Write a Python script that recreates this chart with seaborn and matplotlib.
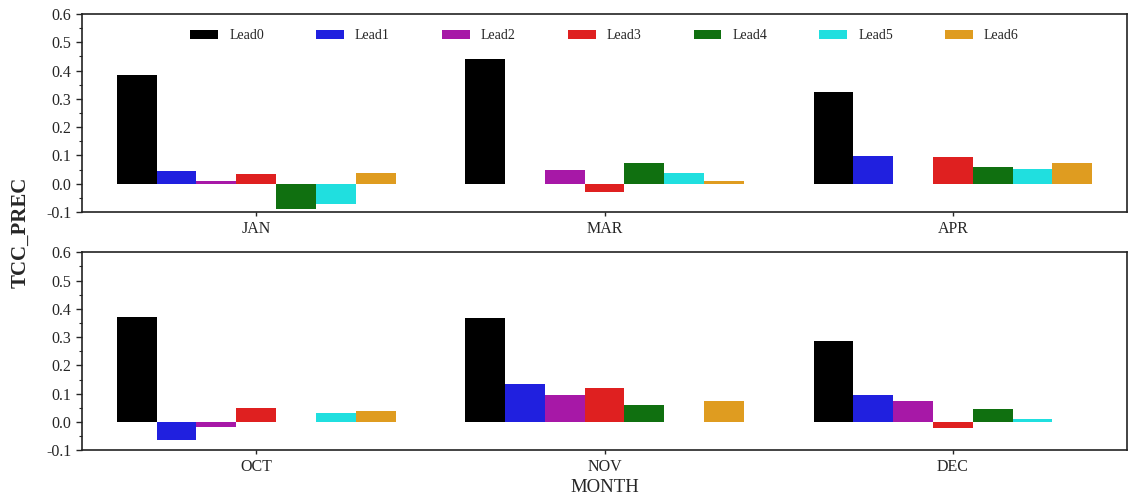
import numpy as np
import pandas as pd
import matplotlib
matplotlib.use('Agg')
import matplotlib.pyplot as plt
from matplotlib.ticker import MultipleLocator, FormatStrFormatter
import seaborn as sns

# data (nan = no bar drawn)
leads = ['Lead0', 'Lead1', 'Lead2', 'Lead3', 'Lead4', 'Lead5', 'Lead6']
months_top = ['JAN', 'MAR', 'APR']
months_bot = ['OCT', 'NOV', 'DEC']

jan = [0.383, 0.044, 0.011, 0.036, -0.088, -0.070, 0.038]
mar = [0.441, np.nan, 0.048, -0.028, 0.073, 0.038, 0.011]
apr = [0.325, 0.099, np.nan, 0.093, 0.060, 0.052, 0.075]
octo = [0.371, -0.064, -0.017, 0.049, np.nan, 0.033, 0.038]
nov = [0.367, 0.135, 0.097, 0.119, 0.060, np.nan, 0.073]
dec = [0.285, 0.095, 0.074, -0.020, 0.046, 0.012, np.nan]

colors = ['black', 'blue', 'm', 'red', 'green', 'cyan', 'orange']


def make_df(months, vals):
    rows = []
    for m, v in zip(months, vals):
        for l, x in zip(leads, v):
            rows.append({'MONTH': m, 'Lead': l, 'TCC': x})
    return pd.DataFrame(rows)


top = make_df(months_top, [jan, mar, apr])
bot = make_df(months_bot, [octo, nov, dec])

sns.set_style('ticks')
plt.rcParams['font.family'] = ['Liberation Serif', 'DejaVu Serif']

fig = plt.figure(figsize=(11.28, 4.97), dpi=100)
ax1 = fig.add_axes([0.0727, 0.5734, 0.9265, 0.3984])
ax2 = fig.add_axes([0.0727, 0.094, 0.9265, 0.3984])

for ax, df, mo in [(ax1, top, months_top), (ax2, bot, months_bot)]:
    sns.barplot(data=df, x='MONTH', y='TCC', hue='Lead', hue_order=leads,
                order=mo, palette=colors, errorbar=None, ax=ax,
                legend=(ax is ax1), linewidth=0)
    ax.set_ylim(-0.1, 0.6)
    ax.set_xlim(-0.5, 2.5)
    ax.yaxis.set_major_locator(MultipleLocator(0.1))
    ax.yaxis.set_minor_locator(MultipleLocator(0.05))
    ax.yaxis.set_major_formatter(FormatStrFormatter('%.1f'))
    ax.tick_params(axis='y', labelsize=11.5, length=4, width=1)
    ax.tick_params(axis='y', which='minor', length=2, width=0.8)
    ax.tick_params(axis='x', labelsize=11.5, length=3, width=1)
    ax.set_ylabel('')
    for s in ax.spines.values():
        s.set_visible(True)
        s.set_linewidth(1.2)
        s.set_color('#222222')

ax1.set_xlabel('')
ax2.set_xlabel('MONTH', fontsize=13.5, labelpad=3)

ax1.legend(ncol=7, frameon=False, loc='upper center',
           bbox_to_anchor=(0.5, 0.985), fontsize=10,
           columnspacing=3.75, handletextpad=0.8)

fig.text(0.018, 0.533, 'TCC_PREC', rotation=90, fontsize=15,
         fontweight='bold', ha='center', va='center')

fig.savefig('out.png', dpi=100)
